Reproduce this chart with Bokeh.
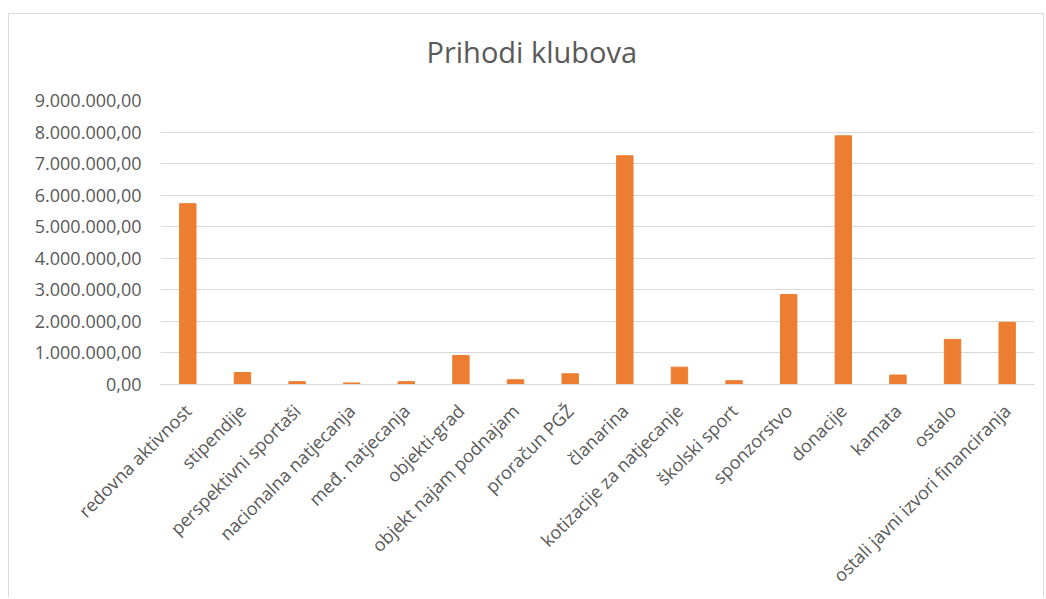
from bokeh.plotting import figure
from bokeh.models import ColumnDataSource, FixedTicker, Range1d, FactorRange, Title
from bokeh.embed import file_html
from bokeh.resources import INLINE
import math

categories = ["redovna aktivnost", "stipendije", "perspektivni sportaši",
              "nacionalna natjecanja", "međ. natjecanja", "objekti-grad",
              "objekt najam podnajam", "proračun PGŽ", "članarina",
              "kotizacije za natjecanje", "školski sport", "sponzorstvo",
              "donacije", "kamata", "ostalo", "ostali javni izvori financiranja"]
values = [5730000, 380000, 90000, 50000, 90000, 920000, 150000, 340000,
          7250000, 550000, 120000, 2850000, 7880000, 300000, 1430000, 1970000]
tick_values = [0, 1000000, 2000000, 3000000, 4000000, 5000000, 6000000,
               7000000, 8000000, 9000000]
tick_labels = ["0,00", "1.000.000,00", "2.000.000,00", "3.000.000,00",
               "4.000.000,00", "5.000.000,00", "6.000.000,00", "7.000.000,00",
               "8.000.000,00", "9.000.000,00"]
title_text = "Prihodi klubova"

FONT = "Open Sans"
TXT = "#595959"

src = ColumnDataSource(dict(cat=categories, val=values))

p = figure(x_range=FactorRange(*categories, range_padding=0),
           y_range=Range1d(0, 9000000),
           width=1036, height=584, output_backend="svg", toolbar_location=None,
           title=None,
           min_border_left=151, min_border_right=11,
           min_border_top=80, min_border_bottom=214)
p.styles = {"margin-top": "13px", "margin-left": "8px",
            "border-top": "1px solid #d9d9d9",
            "border-left": "1px solid #d9d9d9", "border-right": "1px solid #d9d9d9"}

p.vbar(x="cat", top="val", width=0.3, source=src, color="#ED7D31")

spacer = Title(text=" ", text_font_size="2px", standoff=11)
p.add_layout(spacer, "above")
t = Title(text=title_text, align="left", offset=266, standoff=30,
          text_font=FONT, text_font_size="29px", text_font_style="normal",
          text_color=TXT)
p.add_layout(t, "above")

p.outline_line_color = None
p.xgrid.grid_line_color = None
p.ygrid.grid_line_color = "#d9d9d9"
p.ygrid.grid_line_width = 1

p.yaxis.ticker = FixedTicker(ticks=tick_values)
p.yaxis.major_label_overrides = {v: l for v, l in zip(tick_values, tick_labels)}
p.yaxis.axis_line_color = None
p.yaxis.major_tick_line_color = None
p.yaxis.minor_tick_line_color = None
p.yaxis.major_label_text_font = FONT
p.yaxis.major_label_text_font_size = "18px"
p.yaxis.major_label_text_color = TXT
p.yaxis.major_label_standoff = 13

p.xaxis.axis_line_color = "#d9d9d9"
p.xaxis.major_tick_line_color = None
p.xaxis.minor_tick_line_color = None
p.xaxis.major_label_orientation = math.pi / 4
p.xaxis.major_label_text_font = FONT
p.xaxis.major_label_text_font_size = "18px"
p.xaxis.major_label_text_color = TXT
p.xaxis.major_label_standoff = 17

open("out.html", "w").write(file_html(p, INLINE))
